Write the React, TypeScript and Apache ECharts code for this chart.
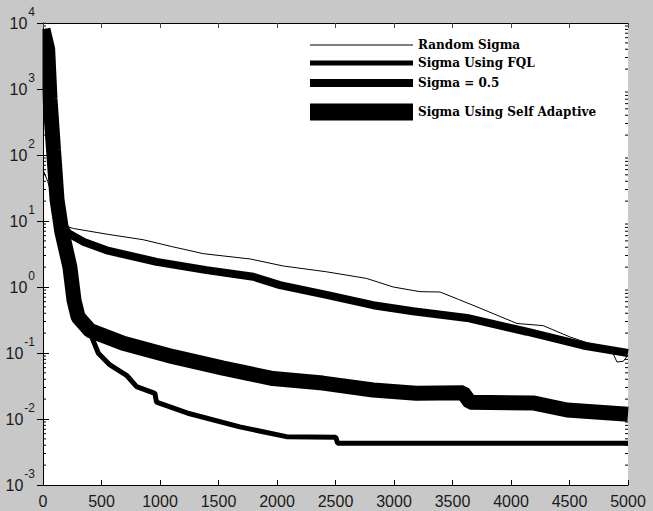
import React, { useEffect, useRef } from "react";
import * as echarts from "echarts";

// ---- data ----
const seriesNames = [
  "Random Sigma",
  "Sigma Using FQL",
  "Sigma = 0.5",
  "Sigma Using Self Adaptive",
];

const randomX = [0, 40, 90, 150, 200, 260, 550, 857, 1100, 1370, 1770, 2054, 2423, 2764, 2994, 3222, 3393, 3550, 3709, 4051, 4274, 4504, 4761, 4860, 4906, 4960, 5000];
const randomY = [60, 40, 20, 10, 8.3, 7.7, 6.3, 5.2, 4.1, 3.2, 2.66, 2.08, 1.7, 1.35, 1.0, 0.85, 0.84, 0.65, 0.5, 0.28, 0.26, 0.175, 0.123, 0.11, 0.073, 0.075, 0.093];

const fqlX = [0, 40, 60, 90, 120, 160, 220, 260, 300, 415, 473, 572, 714, 800, 956, 970, 1255, 1682, 2080, 2503, 2517, 5000];
const fqlY = [8000, 4000, 700, 120, 21, 6, 2, 0.6, 0.33, 0.177, 0.099, 0.066, 0.046, 0.031, 0.0245, 0.018, 0.012, 0.0076, 0.0054, 0.0053, 0.0043, 0.0043];

const halfX = [0, 40, 60, 90, 120, 150, 216, 350, 544, 971, 1398, 1797, 2025, 2423, 2821, 3163, 3624, 4137, 4615, 5000];
const halfY = [8000, 4000, 700, 100, 25, 10, 6.5, 4.8, 3.6, 2.4, 1.8, 1.43, 1.07, 0.76, 0.53, 0.43, 0.34, 0.21, 0.13, 0.1];

const adaptX = [0, 40, 60, 90, 120, 160, 230, 265, 300, 402, 686, 1112, 1540, 1966, 2392, 2821, 3190, 3590, 3650, 4188, 4479, 5000];
const adaptY = [8000, 4000, 700, 120, 21, 7, 2, 0.63, 0.35, 0.22, 0.14, 0.088, 0.059, 0.041, 0.035, 0.0275, 0.0245, 0.025, 0.018, 0.0175, 0.0137, 0.0118];

const xTicks = [0, 500, 1000, 1500, 2000, 2500, 3000, 3500, 4000, 4500, 5000];
const yMajor = [1e-3, 1e-2, 1e-1, 1, 10, 100, 1000, 10000];
const minorFactors = [2, 3, 4, 5, 6, 7, 8, 9];

const zip = (xs: number[], ys: number[]) => xs.map((x, i) => [x, ys[i]]);

export default function App() {
  const ref = useRef<HTMLDivElement>(null);

  useEffect(() => {
    if (!ref.current) return;
    const chart = echarts.init(ref.current, undefined, { renderer: "svg" });

    const yMinor: number[] = [];
    yMajor.slice(0, -1).forEach((m) => minorFactors.forEach((f) => yMinor.push(m * f)));

    const xMin = xTicks[0];
    const xMax = xTicks[xTicks.length - 1];

    const lineWidths = [1, 5, 8, 15];
    const legendWidths = [1, 5, 8, 17];
    const legendCenters = [45, 63, 83, 112];
    const datasets = [zip(randomX, randomY), zip(fqlX, fqlY), zip(halfX, halfY), zip(adaptX, adaptY)];

    const baseY = {
      type: "log" as const,
      logBase: 10,
      min: yMajor[0],
      max: yMajor[yMajor.length - 1],
      splitLine: { show: false },
      z: 60,
    };

    const option: any = {
      animation: false,
      backgroundColor: "#c8c8c8",
      grid: {
        left: 43,
        right: 25,
        top: 23,
        bottom: 26,
        show: true,
        backgroundColor: "#ffffff",
        borderWidth: 0,
      },
      graphic: [
        {
          type: "rect",
          z: 50,
          silent: true,
          shape: { x: 0, y: 0, width: 42.5, height: 485 },
          style: { fill: "#c8c8c8" },
        },
      ],
      legend: seriesNames.map((name, i) => ({
        data: [name],
        left: 310,
        top: legendCenters[i] - 9,
        padding: 0,
        icon: "rect",
        itemWidth: 103,
        itemHeight: legendWidths[i],
        itemGap: 0,
        selectedMode: false,
        textStyle: {
          fontFamily: "DejaVu Serif",
          fontWeight: "bold",
          fontSize: 12,
          lineHeight: 18,
          color: "#000",
        },
      })),
      xAxis: [
        {
          type: "value",
          min: xMin,
          max: xMax,
          interval: 500,
          position: "bottom",
          z: 60,
          axisLine: { show: true, onZero: false, lineStyle: { color: "#000", width: 1 } },
          axisTick: { show: true, inside: true, length: 5, lineStyle: { color: "#000" } },
          axisLabel: {
            margin: 8,
            fontFamily: "Liberation Sans",
            fontSize: 16,
            color: "#1a1a1a",
            formatter: (v: number) => String(v),
          },
          splitLine: { show: false },
        },
        {
          type: "value",
          min: xMin,
          max: xMax,
          interval: 500,
          position: "top",
          z: 60,
          axisLine: { show: true, onZero: false, lineStyle: { color: "#000", width: 1 } },
          axisTick: { show: true, inside: true, length: 5, lineStyle: { color: "#444" } },
          axisLabel: { show: false },
          splitLine: { show: false },
        },
      ],
      yAxis: [
        {
          ...baseY,
          position: "left",
          axisLine: { show: true, lineStyle: { color: "#000", width: 1 } },
          axisTick: { show: true, inside: true, length: 6, customValues: yMajor, lineStyle: { color: "#000" } },
          axisLabel: {
            customValues: yMajor,
            margin: 8,
            formatter: (v: number) => `{b|10}{s|${Math.round(Math.log10(v))}}`,
            rich: {
              b: { fontFamily: "Liberation Sans", fontSize: 16, lineHeight: 16, color: "#1a1a1a", verticalAlign: "bottom" },
              s: { fontFamily: "Liberation Sans", fontSize: 12, lineHeight: 12, color: "#1a1a1a", verticalAlign: "bottom", padding: [0, 0, 13, 1] },
            },
          },
        },
        {
          ...baseY,
          position: "right",
          axisLine: { show: true, lineStyle: { color: "#000", width: 1 } },
          axisTick: { show: true, inside: true, length: 6, customValues: yMajor, lineStyle: { color: "#000" } },
          axisLabel: { show: false },
        },
      ],
      series: [
        ...seriesNames.map((name, i) => ({
          name,
          type: "line",
          xAxisIndex: 0,
          yAxisIndex: 0,
          data: datasets[i],
          symbol: "none",
          clip: true,
          silent: true,
          color: "#000",
          lineStyle: { color: "#000", width: lineWidths[i], cap: "butt", join: "bevel" },
          z: 10 - i,
        })),
        {
          name: "minor ticks",
          type: "custom",
          xAxisIndex: 0,
          yAxisIndex: 0,
          silent: true,
          clip: false,
          z: 55,
          data: yMinor.map((v) => [xMin, v]),
          renderItem: (_params: any, api: any) => {
            const v = api.value(1);
            const l = api.coord([xMin, v]);
            const r = api.coord([xMax, v]);
            const st = { stroke: "#000", lineWidth: 1 };
            return {
              type: "group",
              children: [
                { type: "line", shape: { x1: l[0], y1: l[1], x2: l[0] + 3, y2: l[1] }, style: st },
                { type: "line", shape: { x1: r[0] - 3, y1: r[1], x2: r[0], y2: r[1] }, style: st },
              ],
            };
          },
        },
      ],
    };

    chart.setOption(option);
    return () => chart.dispose();
  }, []);

  return (
    <div
      ref={ref}
      style={{ position: "fixed", left: 0, top: 0, width: 653, height: 511 }}
    />
  );
}
